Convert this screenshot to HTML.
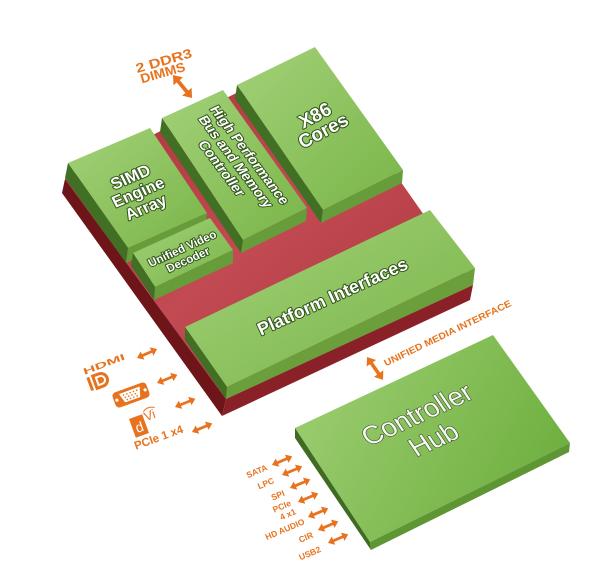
<!DOCTYPE html>
<html><head><meta charset="utf-8">
<style>
html,body{margin:0;padding:0;background:#fff;}
svg{display:block;}
.bt{font-family:"Liberation Sans",sans-serif;font-weight:bold;fill:#fff;stroke:#2f5418;stroke-width:2;paint-order:stroke fill;stroke-linejoin:round;}
.or{font-family:"Liberation Sans",sans-serif;font-weight:bold;fill:#e8731e;}
</style></head><body>
<svg width="600" height="584" viewBox="0 0 600 584" xmlns="http://www.w3.org/2000/svg">
<defs>
<linearGradient id="gt" x1="0" y1="0" x2="1" y2="1"><stop offset="0" stop-color="#a3d179"/><stop offset="1" stop-color="#79b548"/></linearGradient>
<linearGradient id="gh" x1="0" y1="0.3" x2="1" y2="0.7"><stop offset="0" stop-color="#9ccd70"/><stop offset="1" stop-color="#6cae3d"/></linearGradient>
<linearGradient id="rt" x1="0" y1="0" x2="1" y2="1"><stop offset="0" stop-color="#a92f36"/><stop offset="0.5" stop-color="#c24a52"/><stop offset="1" stop-color="#a8323a"/></linearGradient>
<path id="da" d="M0,0 L6,-4.5 L6,-1.4 L16,-1.4 L16,-4.5 L22,0 L16,4.5 L16,1.4 L6,1.4 L6,4.5 Z" fill="#e8731e"/>
</defs>

<!-- red slab -->
<polygon points="65,179 312,55 473,285 226,399" fill="url(#rt)"/>
<polygon points="65,179 226,399 222,416 62,193" fill="#6e1519"/>
<polygon points="226,399 473,285 470,300 222,416" fill="#8a2128"/>

<!-- x86 -->
<polygon points="237,85 315,47 403,170 323,210" fill="url(#gt)"/>
<polygon points="237,85 323,210 321,223 235,99" fill="#416f24"/>
<polygon points="323,210 403,170 402,183 321,223" fill="#679c3a"/>

<!-- HP bus -->
<polygon points="162,118 223,90 307,208 243,240" fill="url(#gt)"/>
<polygon points="162,118 243,240 241,253 160,132" fill="#416f24"/>
<polygon points="243,240 307,208 306,221 241,253" fill="#679c3a"/>

<!-- SIMD -->
<polygon points="68,163 150,128 207,213 128,248" fill="url(#gt)"/>
<polygon points="68,163 128,248 126,263 65,178" fill="#416f24"/>
<polygon points="128,248 207,213 206,227 126,263" fill="#679c3a"/>

<!-- UVD -->
<polygon points="133,253 210,218 233,250 155,287" fill="url(#gt)"/>
<polygon points="133,253 155,287 154,300 131,266" fill="#416f24"/>
<polygon points="155,287 233,250 233,263 154,300" fill="#679c3a"/>

<!-- Platform Interfaces -->
<polygon points="185,327 430,210 475,268 227,387" fill="url(#gt)"/>
<polygon points="185,327 227,387 226,399 185,340" fill="#416f24"/>
<polygon points="227,387 475,268 473,285 226,399" fill="#6a9f3c"/>

<!-- Controller Hub -->
<polygon points="295,428 493,335 570,443 370,542" fill="url(#gh)"/>
<polygon points="295,428 370,542 371,550 295,438" fill="#3f6c22"/>
<polygon points="370,542 570,443 569,452 371,550" fill="#5f9634"/>

<!-- block texts -->
<g class="bt" font-size="16.5" text-anchor="middle" transform="matrix(0.92,-0.39,0.45,0.89,133,182)">
<text x="0" y="0">SIMD</text><text x="0" y="17">Engine</text><text x="0" y="34">Array</text>
</g>
<g class="bt" font-size="14" text-anchor="middle" stroke-width="1.8" transform="matrix(0.6,0.8,-0.9,0.43,245.5,157)">
<text x="0" y="0">High Performance</text><text x="0" y="15.5">Bus and Memory</text><text x="0" y="31">Controller</text>
</g>
<g class="bt" font-size="19" text-anchor="middle" transform="matrix(0.883,-0.469,0.469,0.883,318,121)">
<text x="0" y="0">X86</text><text x="0" y="17.5">Cores</text>
</g>
<g class="bt" font-size="11.5" stroke-width="1.6" text-anchor="middle" transform="matrix(0.911,-0.413,0.46,0.89,184,252)">
<text x="0" y="0">Unified Video</text><text x="0" y="12.5">Decoder</text>
</g>
<text class="bt" font-size="18" text-anchor="middle" transform="matrix(0.91,-0.415,0.415,0.91,335,302)">Platform Interfaces</text>
<g font-family="Liberation Sans, sans-serif" font-size="27" text-anchor="middle" fill="#f6fbf0" stroke="#3a4a30" stroke-width="1.2" paint-order="stroke fill" transform="matrix(0.909,-0.416,0.56,0.83,422,422)">
<text x="0" y="0">Controller</text><text x="0" y="30">Hub</text>
</g>

<!-- DDR3 -->
<g class="or" font-size="13" text-anchor="middle">
<text transform="translate(165,65) rotate(-16)" textLength="58" lengthAdjust="spacingAndGlyphs">2 DDR3</text>
<text transform="translate(164,77) rotate(-16)" textLength="46" lengthAdjust="spacingAndGlyphs">DIMMS</text>
</g>
<use href="#da" transform="translate(173,75) rotate(50.4) scale(1.36)"/>

<!-- UMI -->
<text class="or" font-size="9.5" text-anchor="middle" transform="translate(449,336) rotate(-25.7)" textLength="140" lengthAdjust="spacingAndGlyphs">UNIFIED MEDIA INTERFACE</text>
<use href="#da" transform="translate(367,357) rotate(55) scale(1.27)"/>

<!-- left arrows -->
<use href="#da" transform="translate(137,358) rotate(-24)"/>
<use href="#da" transform="translate(157,383) rotate(-22)"/>
<use href="#da" transform="translate(175,407) rotate(-22)"/>
<use href="#da" transform="translate(192,432) rotate(-23)"/>

<!-- HDMI -->
<text class="or" font-size="11" text-anchor="middle" transform="translate(105,367) rotate(-21) scale(1,0.8)" textLength="44" lengthAdjust="spacingAndGlyphs">HDMI</text>
<!-- DP -->
<g transform="translate(101,380) rotate(-20)" fill="#e8731e">
<rect x="-13" y="-7" width="3" height="14"/>
<path d="M-8,-8 h8 a8,8 0 0 1 0,16 h-8 z"/>
<path d="M-5,-5 h5 a5,5 0 0 1 0,10 h-5 z" fill="#fff"/>
<path d="M-3,-3 h3 a3,3 0 0 1 0,6 h-3 z"/>
</g>
<!-- VGA -->
<g transform="translate(131,395) rotate(-20)">
<rect x="-18" y="-8" width="36" height="16" rx="4" fill="#e8731e"/>
<path d="M-11,-5 h22 l-3,10 h-16 z" fill="#fff"/>
<circle cx="-15" cy="0" r="1.6" fill="#fff"/><circle cx="15" cy="0" r="1.6" fill="#fff"/>
<g fill="#e8731e">
<circle cx="-7" cy="-2.5" r="0.8"/><circle cx="-3.5" cy="-2.5" r="0.8"/><circle cx="0" cy="-2.5" r="0.8"/><circle cx="3.5" cy="-2.5" r="0.8"/><circle cx="7" cy="-2.5" r="0.8"/>
<circle cx="-6" cy="0.3" r="0.8"/><circle cx="-2.5" cy="0.3" r="0.8"/><circle cx="1" cy="0.3" r="0.8"/><circle cx="4.5" cy="0.3" r="0.8"/>
<circle cx="-5" cy="3" r="0.8"/><circle cx="-1.5" cy="3" r="0.8"/><circle cx="2" cy="3" r="0.8"/><circle cx="5.5" cy="3" r="0.8"/>
</g>
</g>
<!-- DVI -->
<g transform="translate(139,426) rotate(-20)">
<rect x="-7" y="-10" width="14" height="20" fill="#e8731e"/>
<text x="0" y="6" font-family="Liberation Sans, sans-serif" font-size="14" fill="#fff" text-anchor="middle">d</text>
<text x="8" y="-2" font-family="Liberation Sans, sans-serif" font-size="13" fill="#e8731e">Vi</text>
<path d="M9,-12 q6,-4 12,0" stroke="#e8731e" stroke-width="1" fill="none"/>
</g>
<text class="or" font-size="11.5" text-anchor="middle" transform="translate(160,441) rotate(-20)">PCIe 1 x4</text>

<!-- bottom arrows -->
<use href="#da" transform="translate(272,465) rotate(-23)"/>
<use href="#da" transform="translate(282,475) rotate(-23)"/>
<use href="#da" transform="translate(290,488) rotate(-23)"/>
<use href="#da" transform="translate(298,502) rotate(-23)"/>
<use href="#da" transform="translate(308,517) rotate(-23)"/>
<use href="#da" transform="translate(318,530) rotate(-23)"/>
<use href="#da" transform="translate(328,543) rotate(-23)"/>

<g class="or" font-size="8.5" text-anchor="middle">
<text transform="translate(258,474) rotate(-23)">SATA</text>
<text transform="translate(267,486) rotate(-23)">LPC</text>
<text transform="translate(279,498) rotate(-23)">SPI</text>
<text transform="translate(283,509) rotate(-23)">PCIe</text>
<text transform="translate(289,517) rotate(-23)">4 x1</text>
<text transform="translate(286,532) rotate(-23)">HD AUDIO</text>
<text transform="translate(307,540) rotate(-23)">CIR</text>
<text transform="translate(311,556) rotate(-23)">USB2</text>
</g>
</svg>
</body></html>
